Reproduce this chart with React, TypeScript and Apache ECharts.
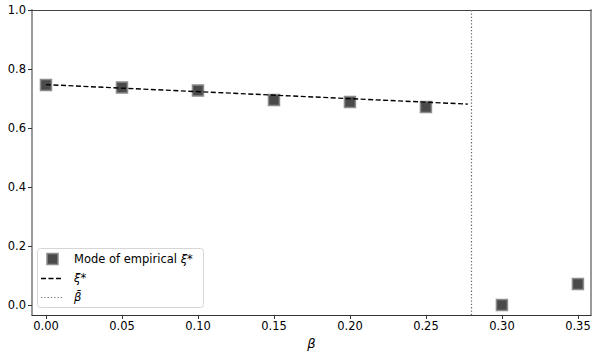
import React, { useEffect, useRef } from "react";
import * as echarts from "echarts";

const betas = [0.0, 0.05, 0.1, 0.15, 0.2, 0.25, 0.3, 0.35];
const modeXi = [0.746, 0.737, 0.727, 0.695, 0.688, 0.671, 0.0, 0.071];
const xiStarX = [0.0, 0.2776];
const xiStarY = [0.747, 0.681];
const betaBar = 0.2776;
const xTicks = [0.0, 0.05, 0.1, 0.15, 0.2, 0.25, 0.3, 0.35];
const yTicks = [0.0, 0.2, 0.4, 0.6, 0.8, 1.0];

const FONT = "DejaVu Sans";

export default function App() {
  const ref = useRef<HTMLDivElement>(null);
  useEffect(() => {
    if (!ref.current) return;
    const chart = echarts.init(ref.current, undefined, { renderer: "svg" });
    const xMin = -0.0092, xMax = 0.3586, yMin = -0.034, yMax = 1.0;
    const baseX = {
      type: "value" as const,
      min: xMin,
      max: xMax,
      splitLine: { show: false },
    };
    const baseY = {
      type: "value" as const,
      min: yMin,
      max: yMax,
      splitLine: { show: false },
    };
    chart.setOption({
      animation: false,
      backgroundColor: "#fff",
      grid: { left: 32, right: 7, top: 10, bottom: 41, containLabel: false },
      xAxis: [
        {
          ...baseX,
          position: "bottom",
          name: "β",
          nameLocation: "middle",
          nameGap: 21,
          nameTextStyle: { fontFamily: FONT, fontSize: 13, fontStyle: "italic", color: "#000" },
          axisLine: { show: true, onZero: false, lineStyle: { color: "#333", width: 1 } },
          axisTick: { show: true, length: 4, lineStyle: { color: "#333" }, customValues: xTicks },
          axisLabel: {
            show: true,
            customValues: xTicks,
            formatter: (v: number) => v.toFixed(2),
            fontFamily: FONT,
            fontSize: 11.5,
            color: "#000",
            margin: 5,
          },
        },
        {
          ...baseX,
          position: "top",
          axisLine: { show: true, onZero: false, lineStyle: { color: "#444", width: 1 } },
          axisTick: { show: false },
          axisLabel: { show: false },
        },
      ],
      yAxis: [
        {
          ...baseY,
          position: "left",
          axisLine: { show: true, onZero: false, lineStyle: { color: "#9a9a9a", width: 2 } },
          axisTick: { show: true, length: 4, lineStyle: { color: "#333" }, customValues: yTicks },
          axisLabel: {
            show: true,
            customValues: yTicks,
            formatter: (v: number) => v.toFixed(1),
            fontFamily: FONT,
            fontSize: 11.5,
            color: "#000",
            margin: 6,
          },
        },
        {
          ...baseY,
          position: "right",
          axisLine: { show: true, onZero: false, lineStyle: { color: "#9a9a9a", width: 2 } },
          axisTick: { show: false },
          axisLabel: { show: false },
        },
      ],
      series: [
        {
          type: "scatter",
          name: "Mode of empirical ξ*",
          data: betas.map((b, i) => [b, modeXi[i]]),
          symbol: "rect",
          symbolSize: 11,
          itemStyle: { color: "#4a4a4a", borderColor: "#8c8c8c", borderWidth: 1.5, opacity: 1 },
          z: 2,
        },
        {
          type: "line",
          name: "ξ*",
          data: xiStarX.map((x, i) => [x, xiStarY[i]]),
          symbol: "none",
          lineStyle: { color: "#000", width: 1.4, type: [5, 2.5] },
          z: 3,
          markLine: {
            silent: true,
            symbol: "none",
            label: { show: false },
            lineStyle: { color: "#666", type: [1.3, 2], width: 1.2 },
            data: [{ xAxis: betaBar }],
          },
        },
      ],
      graphic: [
        {
          type: "rect",
          shape: { x: 37.5, y: 248.5, width: 166, height: 59, r: 3 },
          style: { fill: "rgba(255,255,255,0.85)", stroke: "#d6d6d6", lineWidth: 1 },
          z: 10,
        },
        {
          type: "rect",
          shape: { x: 47, y: 253.5, width: 11, height: 11 },
          style: { fill: "#4a4a4a", stroke: "#8c8c8c", lineWidth: 1.5 },
          z: 11,
        },
        {
          type: "text",
          x: 74,
          y: 259,
          style: {
            text: "Mode of empirical {i|ξ*}",
            fontFamily: FONT,
            fontSize: 11.5,
            fill: "#000",
            verticalAlign: "middle",
            rich: { i: { fontFamily: FONT, fontSize: 11.5, fontStyle: "italic" } },
          },
          z: 11,
        },
        {
          type: "line",
          shape: { x1: 41, y1: 278.5, x2: 63, y2: 278.5 },
          style: { stroke: "#000", lineWidth: 1.4, lineDash: [5, 2.5] },
          z: 11,
        },
        {
          type: "text",
          x: 74,
          y: 278,
          style: {
            text: "ξ*",
            fontFamily: FONT,
            fontSize: 11.5,
            fontStyle: "italic",
            fill: "#000",
            verticalAlign: "middle",
          },
          z: 11,
        },
        {
          type: "line",
          shape: { x1: 41, y1: 297.5, x2: 63, y2: 297.5 },
          style: { stroke: "#777", lineWidth: 1, lineDash: [1.3, 2] },
          z: 11,
        },
        {
          type: "text",
          x: 74,
          y: 297,
          style: {
            text: "β\u0304",
            fontFamily: FONT,
            fontSize: 11.5,
            fontStyle: "italic",
            fill: "#000",
            verticalAlign: "middle",
          },
          z: 11,
        },
      ],
    });
    return () => chart.dispose();
  }, []);
  return <div ref={ref} style={{ width: 598, height: 356, position: "absolute", left: 0, top: 0 }} />;
}
